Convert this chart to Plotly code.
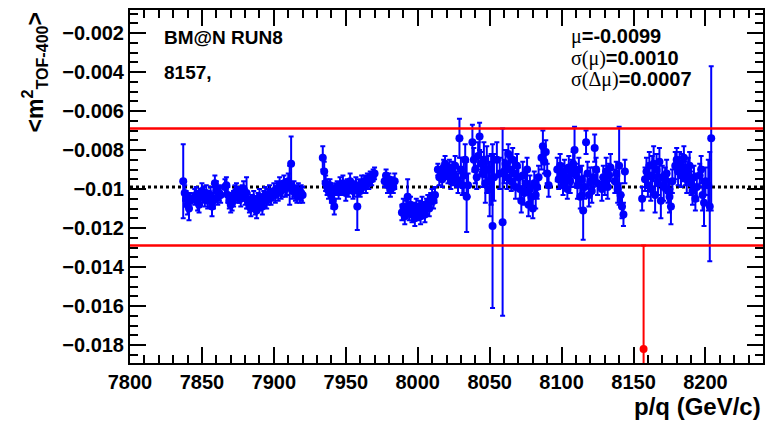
import plotly.graph_objects as go

# ---- data ----
run_x = [
    7837, 7838, 7839, 7840, 7841, 7842, 7845, 7846, 7847, 7848, 7849, 7850, 7851, 7852, 7853, 7854,
    7855, 7856, 7857, 7858, 7859, 7860, 7861, 7862, 7863, 7866, 7867, 7868, 7869, 7870, 7871, 7872,
    7873, 7874, 7875, 7876, 7877, 7878, 7879, 7880, 7881, 7882, 7883, 7884, 7885, 7886, 7887, 7888,
    7889, 7890, 7891, 7892, 7893, 7894, 7895, 7896, 7897, 7898, 7899, 7900, 7901, 7902, 7903, 7904,
    7905, 7906, 7907, 7908, 7909, 7910, 7911, 7912, 7913, 7914, 7915, 7916, 7917, 7918, 7919, 7920,
    7934, 7935, 7936, 7937, 7938, 7939, 7940, 7941, 7942, 7943, 7944, 7945, 7946, 7947, 7948, 7949,
    7950, 7951, 7952, 7953, 7954, 7955, 7956, 7957, 7958, 7959, 7960, 7961, 7962, 7963, 7964, 7965,
    7966, 7967, 7968, 7969, 7970,
    7977, 7978, 7979, 7980, 7981, 7982, 7983, 7984,
    7989, 7990, 7991, 7992, 7993, 7994, 7995, 7996, 7997, 7998, 7999, 8000, 8001, 8002, 8003, 8004,
    8005, 8006, 8007, 8008, 8009, 8010, 8011, 8012,
    8014, 8015, 8016, 8017, 8018, 8019, 8020, 8021, 8022, 8023, 8024, 8025, 8026, 8027, 8028, 8029,
    8030, 8031, 8032, 8033, 8034, 8035, 8038, 8039, 8040, 8041, 8042, 8043, 8044, 8045, 8046, 8047,
    8048, 8049, 8050, 8051, 8052, 8053, 8055, 8057, 8059, 8060, 8061, 8062, 8063, 8064, 8065, 8066,
    8067, 8068, 8069, 8070, 8071, 8072, 8073, 8074, 8075, 8076, 8077, 8078, 8079, 8080, 8081, 8082,
    8083, 8084, 8086, 8087, 8088, 8089, 8090, 8091,
    8097, 8098, 8099, 8100, 8101, 8102, 8103, 8104, 8105, 8106, 8107, 8108, 8109, 8110, 8111, 8112,
    8113, 8114, 8115, 8116, 8117, 8118, 8119, 8120, 8121, 8122, 8123, 8124, 8125,
    8128, 8129, 8130, 8131, 8132, 8133, 8134,
    8137, 8138, 8139, 8140, 8141, 8142, 8143, 8144,
    8156, 8158, 8159, 8160, 8161, 8162, 8163, 8164, 8165, 8166, 8167, 8168, 8169, 8170, 8171, 8172,
    8173, 8174, 8175, 8176, 8177, 8179, 8180, 8181, 8182, 8183, 8184, 8185, 8186, 8187, 8188, 8189,
    8190, 8191, 8192, 8193, 8194, 8196, 8197, 8198, 8199, 8200, 8202, 8203, 8204,
]
mean_m2 = [
    -0.0096, -0.0102, -0.0105, -0.0108, -0.0110, -0.0106, -0.0104, -0.0103, -0.0106, -0.0108, -0.0104, -0.0101, -0.0103, -0.0105, -0.0102, -0.0106,
    -0.0104, -0.0103, -0.0109, -0.0106, -0.0097, -0.0100, -0.0104, -0.0102, -0.0103, -0.0099, -0.0098, -0.0103, -0.0106, -0.0108, -0.0107, -0.0105,
    -0.0102, -0.0101, -0.0104, -0.0103, -0.0105, -0.0102, -0.0100, -0.0104, -0.0102, -0.0106, -0.0108, -0.0110, -0.0107, -0.0105, -0.0109, -0.0111,
    -0.0106, -0.0104, -0.0107, -0.0109, -0.0105, -0.0103, -0.0106, -0.0104, -0.0102, -0.0104, -0.0103, -0.0101, -0.0103, -0.0100, -0.0102, -0.0098,
    -0.0101, -0.0100, -0.0097, -0.0100, -0.0099, -0.0096, -0.0098, -0.0087, -0.0101, -0.0100, -0.0102, -0.0103, -0.0101, -0.0104, -0.0102, -0.0103,
    -0.0084, -0.0091, -0.0097, -0.0099, -0.0101, -0.0098, -0.0103, -0.0106, -0.0109, -0.0100, -0.0099, -0.0101, -0.0098, -0.0100, -0.0097, -0.0099,
    -0.0102, -0.0098, -0.0100, -0.0096, -0.0099, -0.0101, -0.0100, -0.0098, -0.0109, -0.0099, -0.0101, -0.0097, -0.0099, -0.0096, -0.0098, -0.0095,
    -0.0097, -0.0094, -0.0095, -0.0093, -0.0092,
    -0.0096, -0.0093, -0.0098, -0.0095, -0.0100, -0.0097, -0.0099, -0.0096,
    -0.0112, -0.0109, -0.0114, -0.0110, -0.0104, -0.0112, -0.0108, -0.0113, -0.0111, -0.0115, -0.0109, -0.0112, -0.0110, -0.0114, -0.0108, -0.0111,
    -0.0113, -0.0109, -0.0107, -0.0110, -0.0106, -0.0104, -0.0106, -0.0103,
    -0.0090, -0.0094, -0.0092, -0.0095, -0.0089, -0.0087, -0.0091, -0.0093, -0.0089, -0.0096, -0.0090, -0.0093, -0.0088, -0.0095, -0.0097, -0.0074,
    -0.0090, -0.0098, -0.0093, -0.0085, -0.0104, -0.0098, -0.0076, -0.0085, -0.0090, -0.0094, -0.0083, -0.0073, -0.0087, -0.0092, -0.0085, -0.0097,
    -0.0090, -0.0090, -0.0100, -0.0095, -0.0119, -0.0094, -0.0085, -0.0092, -0.0117, -0.0091, -0.0087, -0.0094, -0.0082, -0.0090, -0.0096, -0.0085,
    -0.0092, -0.0099, -0.0088, -0.0094, -0.0100, -0.0106, -0.0093, -0.0102, -0.0097, -0.0090, -0.0108, -0.0100, -0.0104, -0.0110, -0.0097, -0.0103,
    -0.0099, -0.0094, -0.0084, -0.0078, -0.0086, -0.0081, -0.0092, -0.0098,
    -0.0090, -0.0095, -0.0088, -0.0093, -0.0098, -0.0091, -0.0094, -0.0100, -0.0089, -0.0096, -0.0092, -0.0087, -0.0080, -0.0093, -0.0098, -0.0090,
    -0.0104, -0.0095, -0.0111, -0.0099, -0.0076, -0.0092, -0.0103, -0.0096, -0.0101, -0.0094, -0.0079, -0.0090, -0.0097,
    -0.0100, -0.0094, -0.0097, -0.0091, -0.0099, -0.0093, -0.0089,
    -0.0096, -0.0092, -0.0100, -0.0088, -0.0103, -0.0109, -0.0113, -0.0091,
    -0.0105, -0.0095, -0.0091, -0.0098, -0.0088, -0.0100, -0.0093, -0.0087, -0.0103, -0.0090, -0.0097, -0.0086, -0.0106, -0.0094, -0.0099, -0.0095,
    -0.0092, -0.0101, -0.0104, -0.0109, -0.0096, -0.0088, -0.0085, -0.0091, -0.0087, -0.0093, -0.0089, -0.0084, -0.0092, -0.0095, -0.0090, -0.0088,
    -0.0097, -0.0101, -0.0094, -0.0105, -0.0099, -0.0093, -0.0090, -0.0103, -0.0107, -0.0096, -0.0098, -0.0109, -0.0074,
]
err_m2 = [
    0.0019, 0.0004, 0.0004, 0.0005, 0.0006, 0.0004, 0.0004, 0.0004, 0.0005, 0.0004, 0.0004, 0.0004, 0.0004, 0.0004, 0.0004, 0.0004,
    0.0003, 0.0004, 0.0005, 0.0004, 0.0004, 0.0004, 0.0004, 0.0004, 0.0004, 0.0004, 0.0004, 0.0004, 0.0004, 0.0004, 0.0004, 0.0004,
    0.0004, 0.0004, 0.0003, 0.0004, 0.0004, 0.0004, 0.0004, 0.0004, 0.0008, 0.0004, 0.0004, 0.0004, 0.0004, 0.0004, 0.0004, 0.0004,
    0.0004, 0.0004, 0.0004, 0.0004, 0.0004, 0.0004, 0.0004, 0.0004, 0.0004, 0.0004, 0.0003, 0.0004, 0.0004, 0.0004, 0.0004, 0.0004,
    0.0004, 0.0004, 0.0004, 0.0004, 0.0004, 0.0004, 0.0010, 0.0014, 0.0004, 0.0004, 0.0004, 0.0004, 0.0004, 0.0003, 0.0004, 0.0004,
    0.0006, 0.0005, 0.0004, 0.0004, 0.0004, 0.0003, 0.0004, 0.0004, 0.0004, 0.0003, 0.0003, 0.0004, 0.0004, 0.0003, 0.0004, 0.0003,
    0.0004, 0.0003, 0.0004, 0.0004, 0.0003, 0.0004, 0.0004, 0.0004, 0.0012, 0.0004, 0.0003, 0.0004, 0.0003, 0.0003, 0.0004, 0.0003,
    0.0003, 0.0003, 0.0003, 0.0003, 0.0003,
    0.0003, 0.0003, 0.0004, 0.0003, 0.0004, 0.0003, 0.0003, 0.0004,
    0.0004, 0.0004, 0.0004, 0.0004, 0.0009, 0.0004, 0.0004, 0.0004, 0.0004, 0.0004, 0.0004, 0.0004, 0.0004, 0.0004, 0.0004, 0.0004,
    0.0004, 0.0004, 0.0004, 0.0004, 0.0004, 0.0004, 0.0004, 0.0004,
    0.0003, 0.0004, 0.0003, 0.0004, 0.0004, 0.0004, 0.0004, 0.0004, 0.0004, 0.0004, 0.0004, 0.0005, 0.0005, 0.0004, 0.0005, 0.0010,
    0.0006, 0.0005, 0.0009, 0.0008, 0.0018, 0.0006, 0.0009, 0.0006, 0.0007, 0.0006, 0.0007, 0.0007, 0.0006, 0.0007, 0.0009, 0.0010,
    0.0012, 0.0007, 0.0014, 0.0013, 0.0042, 0.0012, 0.0009, 0.0008, 0.0048, 0.0006, 0.0007, 0.0006, 0.0005, 0.0006, 0.0005, 0.0006,
    0.0007, 0.0006, 0.0006, 0.0005, 0.0005, 0.0006, 0.0007, 0.0006, 0.0006, 0.0006, 0.0006, 0.0007, 0.0006, 0.0005, 0.0006, 0.0007,
    0.0006, 0.0006, 0.0006, 0.0008, 0.0006, 0.0006, 0.0005, 0.0006,
    0.0006, 0.0005, 0.0006, 0.0006, 0.0005, 0.0006, 0.0006, 0.0005, 0.0006, 0.0006, 0.0007, 0.0006, 0.0012, 0.0006, 0.0007, 0.0006,
    0.0006, 0.0007, 0.0015, 0.0006, 0.0006, 0.0006, 0.0006, 0.0007, 0.0006, 0.0005, 0.0007, 0.0006, 0.0006,
    0.0006, 0.0006, 0.0006, 0.0007, 0.0006, 0.0006, 0.0007,
    0.0006, 0.0006, 0.0007, 0.0020, 0.0006, 0.0006, 0.0006, 0.0006,
    0.0006, 0.0006, 0.0007, 0.0006, 0.0007, 0.0006, 0.0010, 0.0009, 0.0009, 0.0008, 0.0006, 0.0007, 0.0009, 0.0006, 0.0007, 0.0006,
    0.0007, 0.0006, 0.0008, 0.0009, 0.0006, 0.0007, 0.0006, 0.0007, 0.0006, 0.0006, 0.0007, 0.0006, 0.0006, 0.0007, 0.0006, 0.0007,
    0.0006, 0.0007, 0.0006, 0.0006, 0.0007, 0.0006, 0.0007, 0.0008, 0.0012, 0.0007, 0.0013, 0.0028, 0.0037,
]

# outlier run (drawn in red)
bad_x = [8157]
bad_m2 = [-0.0182]
bad_err = [0.0053]

mu = -0.0099
sigma_mu = 0.0010
sigma_dmu = 0.0007

x_tickvals = [7800, 7850, 7900, 7950, 8000, 8050, 8100, 8150, 8200]
x_ticktext = ["7800", "7850", "7900", "7950", "8000", "8050", "8100", "8150", "8200"]
y_tickvals = [-0.002, -0.004, -0.006, -0.008, -0.010, -0.012, -0.014, -0.016, -0.018]
y_ticktext = ["\u22120.002", "\u22120.004", "\u22120.006", "\u22120.008", "\u22120.01",
              "\u22120.012", "\u22120.014", "\u22120.016", "\u22120.018"]

FONT = "Liberation Sans"
BLUE = "#0000ff"
RED = "#ff0000"

fig = go.Figure()
fig.add_trace(go.Scatter(
    x=run_x, y=mean_m2, mode="markers",
    marker=dict(color=BLUE, size=8, line=dict(width=0)),
    error_y=dict(type="data", array=err_m2, visible=True, color=BLUE, thickness=2, width=2.5),
    showlegend=False,
))
fig.add_trace(go.Scatter(
    x=bad_x, y=bad_m2, mode="markers",
    marker=dict(color=RED, size=8, line=dict(width=0)),
    error_y=dict(type="data", array=bad_err, visible=True, color=RED, thickness=2, width=2.5),
    showlegend=False,
))

# mean and +-3 sigma lines
fig.add_shape(type="line", xref="paper", x0=0, x1=1, y0=mu, y1=mu,
              line=dict(color="black", width=3, dash="dot"), layer="below")
fig.add_shape(type="line", xref="paper", x0=0, x1=1, y0=mu + 3 * sigma_mu, y1=mu + 3 * sigma_mu,
              line=dict(color=RED, width=2.5))
fig.add_shape(type="line", xref="paper", x0=0, x1=1, y0=mu - 3 * sigma_mu, y1=mu - 3 * sigma_mu,
              line=dict(color=RED, width=2.5))

axis_common = dict(
    showgrid=False, zeroline=False, showline=True, linecolor="black", linewidth=2,
    mirror="ticks", ticks="inside", tickcolor="black", tickwidth=2, automargin=False,
    tickfont=dict(family=FONT, size=20, color="black", weight="bold"),
)
fig.update_xaxes(
    range=[7800, 8240], tickvals=x_tickvals, ticktext=x_ticktext, ticklen=16,
    minor=dict(ticks="inside", dtick=10, tick0=7800, ticklen=8, tickwidth=2, tickcolor="black", showgrid=False),
    **axis_common,
)
fig.update_yaxes(
    range=[-0.01892, -0.00082], tickvals=y_tickvals, ticktext=y_ticktext, ticklen=16,
    minor=dict(ticks="inside", dtick=0.0005, tick0=0, ticklen=8, tickwidth=2, tickcolor="black", showgrid=False),
    **axis_common,
)

ann_font = dict(family=FONT, size=19, color="black", weight="bold")
fig.add_annotation(xref="paper", yref="paper", x=0.051, y=0.922, xanchor="left", yanchor="middle",
                   text="BM@N RUN8", showarrow=False, font=ann_font)
fig.add_annotation(xref="paper", yref="paper", x=0.051, y=0.822, xanchor="left", yanchor="middle",
                   text="8157,", showarrow=False, font=ann_font)

sym = "<span style='font-family:Liberation Serif;font-weight:normal'>%s</span>"
stats_lines = [
    (sym % "\u03bc") + "=%.4f" % mu,
    (sym % "\u03c3(\u03bc)") + "=%.4f" % sigma_mu,
    (sym % "\u03c3(\u0394\u03bc)") + "=%.4f" % sigma_dmu,
]
for i, t in enumerate(stats_lines):
    fig.add_annotation(xref="paper", yref="paper", x=0.6935, y=0.924 - i * 0.061,
                       xanchor="left", yanchor="middle", text=t, showarrow=False,
                       font=dict(family=FONT, size=20, color="black", weight="bold"))

# axis titles
fig.add_annotation(xref="paper", yref="paper", x=-0.151, y=1.0, xanchor="center", yanchor="top",
                   textangle=-90, text="&lt;m<sup>2</sup><sub>TOF-400</sub>&gt;", showarrow=False,
                   font=dict(family=FONT, size=23, color="black", weight="bold"))
fig.add_annotation(xref="paper", yref="paper", x=1.0, y=-0.078, xanchor="right", yanchor="top",
                   text="p/q (GeV/c)", showarrow=False,
                   font=dict(family=FONT, size=24, color="black", weight="bold"))

fig.update_layout(
    width=766, height=422,
    margin=dict(l=130, r=3, t=10, b=59),
    paper_bgcolor="white", plot_bgcolor="white",
)

fig.write_html(
    "out.html",
    config={"displayModeBar": False},
    post_script="document.body.style.margin='0';document.body.style.overflow='hidden';",
)
